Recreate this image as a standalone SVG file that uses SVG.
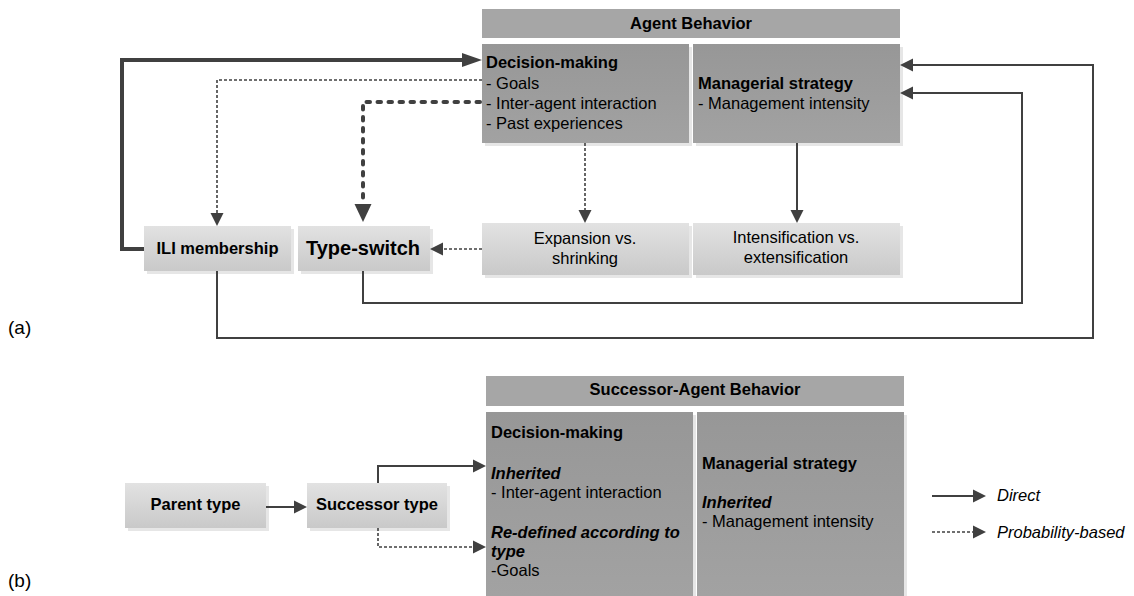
<svg xmlns="http://www.w3.org/2000/svg" width="1134" height="596" viewBox="0 0 1134 596">
<defs>
<linearGradient id="lg" x1="0" y1="0" x2="0" y2="1"><stop offset="0" stop-color="#e2e2e2"/><stop offset="1" stop-color="#c9c9c9"/></linearGradient>
<linearGradient id="dg" x1="0" y1="0" x2="0" y2="1"><stop offset="0" stop-color="#979797"/><stop offset="1" stop-color="#a2a2a2"/></linearGradient>
<marker id="ah" markerUnits="userSpaceOnUse" markerWidth="14" markerHeight="14" refX="0" refY="6.5" orient="auto" viewBox="0 0 14 13"><path d="M0,0 L13,6.5 L0,13 z" fill="#404040"/></marker>
<marker id="ahT" markerUnits="userSpaceOnUse" markerWidth="21" markerHeight="15" refX="0" refY="7" orient="auto" viewBox="0 0 21 14"><path d="M0,0 L20,7 L0,14 z" fill="#404040"/></marker>
<marker id="ahD" markerUnits="userSpaceOnUse" markerWidth="19" markerHeight="19" refX="0" refY="8.5" orient="auto" viewBox="0 0 19 17"><path d="M0,0 L18,8.5 L0,17 z" fill="#404040"/></marker>
</defs>
<style>
text{font-family:"Liberation Sans",Arial,sans-serif;font-size:16.5px;fill:#000}
.b{font-weight:bold}
.bi{font-weight:bold;font-style:italic}
.i{font-style:italic}
.m{text-anchor:middle}
.hdr{fill:#a6a6a6}
.dk{fill:url(#dg)}
.lt{fill:url(#lg)}
.sh{fill:#e6e6e6}
.ln{fill:none;stroke:#404040;stroke-width:2}
.dot{fill:none;stroke:#404040;stroke-width:1.6;stroke-dasharray:3 2}
.thick{fill:none;stroke:#404040;stroke-width:4}
.tdash{fill:none;stroke:#404040;stroke-width:4;stroke-dasharray:3.5 7.5;stroke-linecap:round}
</style>

<text x="8" y="334" style="font-size:19px">(a)</text>
<text x="8" y="587" style="font-size:19px">(b)</text>

<g id="agent-behavior-header">
<rect class="hdr" x="482" y="9" width="418" height="29"/>
<text class="b m" x="691" y="29">Agent Behavior</text>
</g>
<g id="decision-making">
<rect class="sh" x="485" y="47" width="207" height="99"/>
<rect class="dk" x="482" y="44" width="207" height="99"/>
<text class="b" x="486" y="68">Decision-making</text>
<text x="486" y="89">- Goals</text>
<text x="486" y="109">- Inter-agent interaction</text>
<text x="486" y="129">- Past experiences</text>
</g>
<g id="managerial-strategy">
<rect class="sh" x="696" y="47" width="207" height="99"/>
<rect class="dk" x="693" y="44" width="207" height="99"/>
<text class="b" x="698" y="89">Managerial strategy</text>
<text x="698" y="109">- Management intensity</text>
</g>
<g id="expansion">
<rect class="sh" x="485" y="226" width="207" height="52"/>
<rect class="lt" x="482" y="223" width="207" height="52"/>
<text class="m" x="585" y="244">Expansion vs.</text>
<text class="m" x="585" y="264">shrinking</text>
</g>
<g id="intensification">
<rect class="sh" x="696" y="226" width="207" height="52"/>
<rect class="lt" x="693" y="223" width="207" height="52"/>
<text class="m" x="796" y="243">Intensification vs.</text>
<text class="m" x="796" y="263">extensification</text>
</g>
<g id="ili-membership">
<rect class="sh" x="147" y="229" width="147" height="45"/>
<rect class="lt" x="144" y="226" width="147" height="45"/>
<text class="b m" x="217.5" y="254">ILI membership</text>
</g>
<g id="type-switch">
<rect class="sh" x="301" y="229" width="132" height="45"/>
<rect class="lt" x="298" y="226" width="132" height="45"/>
<text class="b m" x="363" y="255" style="font-size:20px">Type-switch</text>
</g>

<g id="successor-agent-behavior-header">
<rect class="hdr" x="486" y="376" width="418" height="30"/>
<text class="b m" x="695" y="395">Successor-Agent Behavior</text>
</g>
<g id="succ-decision-making">
<rect class="sh" x="489" y="415" width="207" height="184"/>
<rect class="dk" x="486" y="412" width="207" height="184"/>
<text class="b" x="491" y="438">Decision-making</text>
<text class="bi" x="491" y="479">Inherited</text>
<text x="491" y="498">- Inter-agent interaction</text>
<text class="bi" x="491" y="538">Re-defined according to</text>
<text class="bi" x="491" y="557">type</text>
<text x="491" y="576">-Goals</text>
</g>
<g id="succ-managerial-strategy">
<rect class="sh" x="700" y="415" width="207" height="184"/>
<rect class="dk" x="697" y="412" width="207" height="184"/>
<text class="b" x="702" y="469">Managerial strategy</text>
<text class="bi" x="702" y="508">Inherited</text>
<text x="702" y="527">- Management intensity</text>
</g>
<g id="parent-type">
<rect class="sh" x="128" y="486" width="141" height="45"/>
<rect class="lt" x="125" y="483" width="141" height="45"/>
<text class="b m" x="195.5" y="510">Parent type</text>
</g>
<g id="successor-type">
<rect class="sh" x="310" y="486" width="140" height="45"/>
<rect class="lt" x="307" y="483" width="140" height="45"/>
<text class="b m" x="377" y="510">Successor type</text>
</g>

<g id="legend">
<text class="i" x="997" y="501">Direct</text>
<text class="i" x="997" y="538">Probability-based</text>
</g>

<g id="connectors">
<path class="thick" d="M144,249 H122 V60 H462" marker-end="url(#ahT)"/>
<path class="dot" d="M482,80 H217 V213" marker-end="url(#ah)"/>
<path class="tdash" d="M480,102 H363 V204" marker-end="url(#ahD)"/>
<path class="dot" d="M482,249 H443" marker-end="url(#ah)"/>
<path class="dot" d="M585,143 V210" marker-end="url(#ah)"/>
<path class="ln" d="M797,143 V210" marker-end="url(#ah)"/>
<path class="ln" d="M217,271 V338 H1093 V65 H913" marker-end="url(#ah)"/>
<path class="ln" d="M363,271 V303 H1022 V93 H913" marker-end="url(#ah)"/>
<path class="ln" d="M266,507 H294" marker-end="url(#ah)"/>
<path class="ln" d="M378,483 V466 H473" marker-end="url(#ah)"/>
<path class="dot" d="M378,528 V547 H473" marker-end="url(#ah)"/>
<path class="ln" d="M932,496 H973" marker-end="url(#ah)"/>
<path class="dot" d="M932,532 H973" marker-end="url(#ah)"/>
</g>
</svg>
